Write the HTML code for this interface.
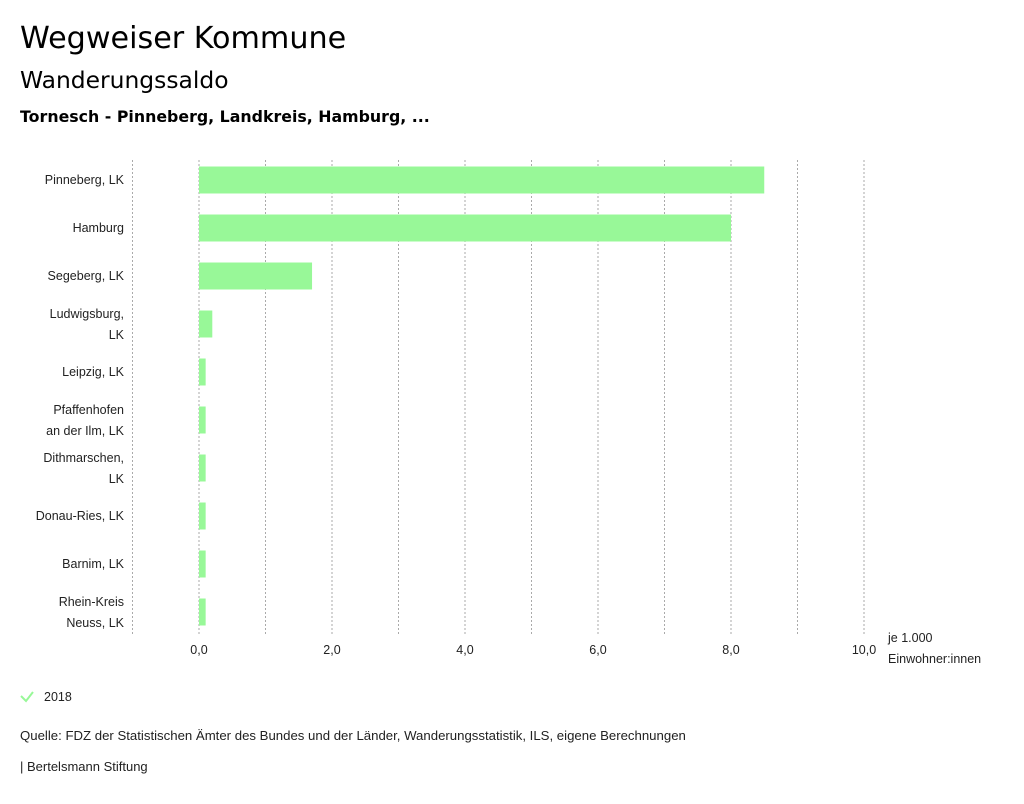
<!DOCTYPE html>
<html><head><meta charset="utf-8"><style>
body{margin:0;background:#fff;width:1024px;height:799px;overflow:hidden;font-family:"Liberation Sans",sans-serif;}
</style></head><body>
<svg id="c" width="1024" height="799" xmlns="http://www.w3.org/2000/svg">
<text x="20" y="48" font-size="30.2" font-family="DejaVu Sans" fill="#000">Wegweiser Kommune</text>
<text x="20" y="88" font-size="23.4" font-family="DejaVu Sans" fill="#000">Wanderungssaldo</text>
<text x="20" y="122" font-size="15.8" font-family="DejaVu Sans" font-weight="bold" fill="#000">Tornesch - Pinneberg, Landkreis, Hamburg, ...</text>
<g id="grid"></g><g id="bars"></g><g id="ylab"></g><g id="xlab"></g>
<text x="888" y="642" font-size="12.5" fill="#222">je 1.000</text>
<text x="888" y="663" font-size="12.5" fill="#222">Einwohner:innen</text>
<g>
<path d="M21 696 L26 701 L33 692" stroke="#98f898" stroke-width="2" fill="none"/>
<text x="44" y="701" font-size="12.5" fill="#222">2018</text></g>
<text x="20" y="740" font-size="13.2" fill="#222">Quelle: FDZ der Statistischen Ämter des Bundes und der Länder, Wanderungsstatistik, ILS, eigene Berechnungen</text>
<text x="20" y="771" font-size="13" fill="#222">| Bertelsmann Stiftung</text>
</svg>
<script>
const categories=[["Pinneberg, LK"],["Hamburg"],["Segeberg, LK"],["Ludwigsburg,","LK"],["Leipzig, LK"],["Pfaffenhofen","an der Ilm, LK"],["Dithmarschen,","LK"],["Donau-Ries, LK"],["Barnim, LK"],["Rhein-Kreis","Neuss, LK"]];
const values=[8.5,8.0,1.7,0.2,0.1,0.1,0.1,0.1,0.1,0.1];
const tickValues=[0,2,4,6,8,10];
const tickLabels=["0,0","2,0","4,0","6,0","8,0","10,0"];
const gridValues=[-1,0,1,2,3,4,5,6,7,8,9,10];
const NS="http://www.w3.org/2000/svg";
const x=v=>199+v*66.5;
const y=i=>180+i*48;
function mk(t,a,p){const e=document.createElementNS(NS,t);for(const k in a)e.setAttribute(k,a[k]);p.appendChild(e);return e;}
const G=document.getElementById('grid'),B=document.getElementById('bars'),Y=document.getElementById('ylab'),X=document.getElementById('xlab');
gridValues.forEach(v=>{const l=mk('line',{x1:x(v),x2:x(v),y1:160,y2:635,stroke:'#aaa','stroke-dasharray':'2,2'},G);

});
values.forEach((v,i)=>{const r=mk('rect',{x:Math.min(x(0),x(v)),y:y(i)-13.5,width:Math.abs(x(v)-x(0)),height:27,fill:'#98f898'},B);

});
categories.forEach((c,i)=>{const t=mk('text',{'text-anchor':'end','font-size':12.5,fill:'#222'},Y);


const y0=c.length===1?y(i)+4:y(i)-6;
c.forEach((s,j)=>{const ts=mk('tspan',{x:124,y:y0+j*21},t);ts.textContent=s;});});
tickValues.forEach((v,i)=>{const t=mk('text',{x:x(v),y:654,'text-anchor':'middle','font-size':12.5,fill:'#222'},X);


t.textContent=tickLabels[i];});
</script>
</body></html>
